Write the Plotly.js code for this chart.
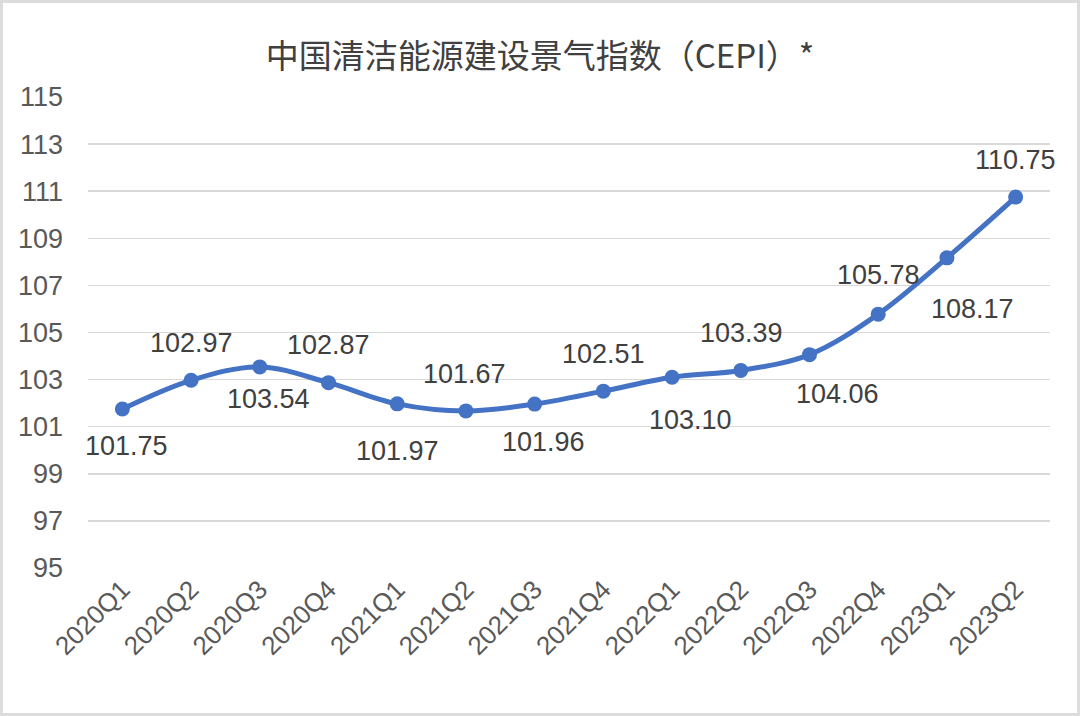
<!DOCTYPE html>
<html>
<head>
<meta charset="utf-8">
<script src="https://cdn.plot.ly/plotly-3.0.1.min.js"></script>
<style>
html,body{margin:0;padding:0;background:#fff;}
#wrap{position:relative;width:1080px;height:716px;}
#chart{width:1080px;height:716px;}
#frame{position:absolute;left:0;top:0;width:1080px;height:716px;box-sizing:border-box;border:3px solid #dcdcdc;pointer-events:none;}
</style>
</head>
<body>
<div id="wrap"><div id="chart"></div><div id="frame"></div></div>
<script>
const categories = ["2020Q1","2020Q2","2020Q3","2020Q4","2021Q1","2021Q2","2021Q3","2021Q4","2022Q1","2022Q2","2022Q3","2022Q4","2023Q1","2023Q2"];
const cepi = [101.75,102.97,103.54,102.87,101.97,101.67,101.96,102.51,103.10,103.39,104.06,105.78,108.17,110.75];
const yTicks = [95,97,99,101,103,105,107,109,111,113,115];
// label placement (pixels relative to each point)
const labelDx = [4,0,9,0,0,-1,9,0,18,1,28,0,26,0];
const labelDy = [-37,37,-32,38,-47,37,-38,37,-43,37,-39,39,-51,37];

const cjk = '"Noto Sans CJK SC", "Noto Sans", Arial, sans-serif';
const latin = 'Arial, "Liberation Sans", sans-serif';

const trace = {
  type: 'scatter',
  mode: 'lines+markers',
  x: categories,
  y: cepi,
  line: {color: '#4472C4', width: 5, shape: 'spline', smoothing: 1},
  marker: {color: '#4472C4', size: 15},
  hoverinfo: 'skip',
  cliponaxis: false
};

const annotations = cepi.map((v, i) => ({
  x: categories[i], y: v, xref: 'x', yref: 'y',
  text: v.toFixed(2), showarrow: false,
  xanchor: 'center', yanchor: 'middle',
  xshift: labelDx[i], yshift: labelDy[i],
  font: {family: latin, size: 27, color: '#404040'}
}));

const layout = {
  width: 1080, height: 716,
  margin: {l: 88, r: 30, t: 97, b: 148},
  paper_bgcolor: '#ffffff', plot_bgcolor: '#ffffff',
  showlegend: false,
  title: {text: '中国清洁能源建设景气指数（CEPI）*', x: 0.5, xanchor: 'center', y: 0.921, yanchor: 'middle',
          font: {family: cjk, size: 33, color: '#404040'}},
  xaxis: {
    type: 'category', range: [-0.5, 13.5],
    tickangle: -45, showgrid: false, zeroline: false, showline: false, ticks: '',
    tickfont: {family: latin, size: 26, color: '#595959'}
  },
  yaxis: {
    range: [95, 115], tickvals: yTicks, ticktext: yTicks.map(String),
    showgrid: true, gridcolor: '#d9d9d9', gridwidth: 1.5, zeroline: false, showline: false, ticks: '',
    ticklabelstandoff: 24,
    tickfont: {family: latin, size: 27, color: '#595959'}
  },
  annotations: annotations
};
Plotly.newPlot('chart', [trace], layout, {displayModeBar: false, staticPlot: true});
</script>
</body>
</html>
